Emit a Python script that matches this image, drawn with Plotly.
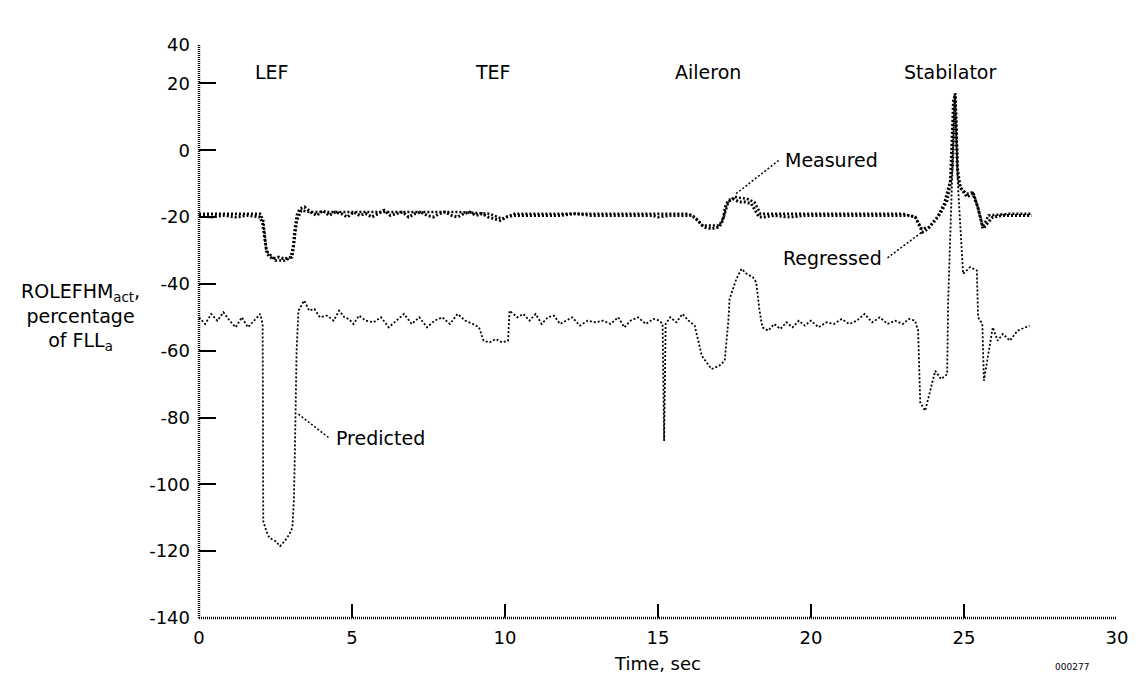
import plotly.graph_objects as go

# ---- Measured flap hinge moment (percent of FLL_a) ----
t_measured = [
    0, 0.4, 0.8, 1.2, 1.6, 2.0, 2.08, 2.15, 2.22, 2.4,
    2.6, 2.8, 3.0, 3.08, 3.13, 3.2, 3.3, 3.45, 3.65, 3.85,
    4.05, 4.25, 4.45, 4.65, 4.85, 5.05, 5.25, 5.45, 5.65, 5.85,
    6.05, 6.25, 6.45, 6.65, 6.85, 7.05, 7.25, 7.45, 7.65, 7.85,
    8.05, 8.25, 8.45, 8.65, 8.85, 9.05, 9.25, 9.45, 9.65, 9.85,
    10.05, 10.3, 10.8, 11.3, 11.8, 12.3, 12.8, 13.3, 13.8, 14.3,
    14.6, 14.8, 15.0, 15.4, 15.8, 16.1, 16.3, 16.5, 16.75, 17.0,
    17.12, 17.2, 17.3, 17.45, 17.65, 17.85, 18.05, 18.2, 18.3, 18.45,
    18.8, 19.3, 19.8, 20.3, 20.8, 21.3, 21.8, 22.3, 22.8, 23.2,
    23.41, 23.64, 23.83, 24.06, 24.22, 24.45, 24.55, 24.62, 24.71, 24.78,
    24.87, 25.1, 25.29, 25.45, 25.62, 25.75, 25.94, 26.3, 26.7, 27.2,
]
measured = [
    -19.5, -20, -19.5, -20, -19.5, -20, -22, -27, -31, -32.5,
    -32, -32.5, -32, -29, -24, -19.5, -17.5, -17, -18.5, -19.5,
    -18, -19.5, -18.5, -19, -20, -18.5, -19.5, -19, -20, -19,
    -18, -19.5, -19, -18.5, -20, -19, -18.5, -19.5, -20, -19,
    -18.5, -19.5, -20, -19, -18.5, -19.5, -19, -20, -20.5, -21,
    -20, -19.5, -19.5, -19.5, -19.5, -19, -19.5, -19.5, -19.5, -19.5,
    -19.5, -19.5, -20, -19.5, -19.5, -19.5, -21, -23, -23.5, -23,
    -21, -17, -15, -14.5, -15.5, -15.5, -16, -18.5, -20, -20,
    -19.5, -20, -19.5, -19.5, -19.5, -19.5, -19.5, -19.5, -19.5, -19.5,
    -20, -24.5, -23.5, -21, -19, -15, -10, -5, 17, -5,
    -11, -14, -13, -17, -23.5, -22, -20, -19.5, -19.5, -19.5,
]

# ---- Regressed model ----
t_regressed = [
    0, 1.0, 2.0, 2.1, 2.2, 2.5, 2.8, 3.05, 3.12, 3.2,
    3.35, 3.6, 4.5, 5.5, 6.5, 7.5, 8.5, 9.5, 9.9, 10.3,
    12.0, 14.0, 16.0, 16.2, 16.45, 17.0, 17.15, 17.3, 17.5, 17.9,
    18.15, 18.35, 19.0, 21.0, 23.0, 23.4, 23.62, 23.85, 24.1, 24.35,
    24.55, 24.65, 24.72, 24.8, 24.9, 25.1, 25.3, 25.45, 25.62, 25.8,
    26.5, 27.2,
]
regressed = [
    -19, -19, -19, -21, -30, -33, -33, -32, -27, -21,
    -18, -18.5, -18.5, -18.5, -18.5, -18.5, -18.5, -19, -20.5, -19,
    -19, -19, -19, -20, -22.5, -22.5, -20, -15.5, -14, -14.5,
    -15.5, -19, -19, -19, -19, -20, -23.5, -23, -20.5, -16,
    -9, 15, 17, -8, -11.5, -13, -12.5, -17, -23, -19.5,
    -19, -19,
]

# ---- Predicted ----
t_predicted = [
    0, 0.2, 0.4, 0.6, 0.8, 1.0, 1.2, 1.4, 1.6, 1.8,
    2.0, 2.08, 2.1, 2.2, 2.3, 2.5, 2.65, 2.8, 2.95, 3.05,
    3.1, 3.13, 3.16, 3.19, 3.25, 3.44, 3.6, 3.77, 3.95, 4.19,
    4.4, 4.58, 4.75, 4.9, 5.05, 5.23, 5.45, 5.7, 5.95, 6.2,
    6.45, 6.7, 6.95, 7.2, 7.45, 7.7, 7.95, 8.2, 8.45, 8.7,
    8.95, 9.15, 9.3, 9.5, 9.7, 9.9, 10.1, 10.15, 10.4, 10.6,
    10.8, 11.0, 11.2, 11.4, 11.6, 11.8, 12.0, 12.2, 12.45, 12.7,
    12.95, 13.2, 13.45, 13.7, 13.9, 14.1, 14.35, 14.6, 14.85, 15.05,
    15.15, 15.2, 15.25, 15.4, 15.6, 15.8, 16.0, 16.2, 16.43, 16.75,
    17.0, 17.18, 17.24, 17.3, 17.34, 17.56, 17.73, 17.9, 18.1, 18.21,
    18.31, 18.41, 18.6, 18.8, 19.0, 19.2, 19.4, 19.6, 19.8, 20.0,
    20.25, 20.5, 20.75, 21.0, 21.25, 21.5, 21.75, 22.0, 22.25, 22.5,
    22.75, 23.0, 23.2, 23.4, 23.5, 23.57, 23.73, 23.93, 24.06, 24.25,
    24.45, 24.48, 24.55, 24.62, 24.7, 24.8, 24.87, 24.97, 25.2, 25.42,
    25.46, 25.6, 25.65, 25.8, 25.94, 26.1, 26.27, 26.5, 26.75, 27.14,
]
predicted = [
    -50, -52, -49, -51, -48.5, -51, -53, -50, -53, -51,
    -49, -52, -111, -114, -116, -117, -118.5, -117, -115, -113,
    -105, -92, -78, -60, -48, -45, -48, -47.5, -50, -49.5,
    -51, -48, -50, -50.5, -52, -49.5, -51, -51.5, -50, -53,
    -51, -49, -52, -50, -53, -51, -50, -52, -49, -51,
    -52, -53, -57, -57.5, -56.5, -57.5, -57, -48, -50, -49,
    -51, -49, -52, -50, -49.5, -52, -51, -50, -52.5, -51,
    -51.5, -51, -52, -50, -53, -51, -50, -52, -50.5, -51,
    -52, -87, -52, -50, -51.5, -49, -51, -52.5, -61.5, -65.5,
    -64.5, -63, -57, -51, -44.5, -38.5, -35.5, -37, -38, -39.5,
    -47.5, -53, -54, -52, -53.5, -51.5, -53, -51, -52.5, -51,
    -53, -51.5, -52, -50.5, -52, -51, -49, -51.5, -50, -52,
    -51, -52, -50.5, -51, -54, -75.5, -78, -70.5, -66, -68.5,
    -67, -46, -25, -5, 17, -10, -20, -37, -35, -36,
    -50, -52, -69, -60, -53, -57, -55, -57, -54, -52.5,
]

# ---- Axis ticks ----
x_ticks = [0, 5, 10, 15, 20, 25, 30]
y_ticks = [-140, -120, -100, -80, -60, -40, -20, 0, 20, 31.5]
y_tick_labels = ["-140", "-120", "-100", "-80", "-60", "-40", "-20", "0", "20", "40"]
y_top = 31.5

# ---- Surface labels ----
surfaces = ["LEF", "TEF", "Aileron", "Stabilator"]
surface_x = [2.37, 9.6, 16.65, 24.55]

FONT = "DejaVu Sans"

fig = go.Figure()

fig.add_trace(go.Scatter(
    x=t_measured, y=measured, mode="lines", name="Measured",
    line=dict(color="black", width=3, dash="2px,2px"),
))
fig.add_trace(go.Scatter(
    x=t_regressed, y=regressed, mode="lines", name="Regressed",
    line=dict(color="black", width=2.5, dash="2px,2px"),
))
fig.add_trace(go.Scatter(
    x=t_predicted, y=predicted, mode="lines", name="Predicted",
    line=dict(color="black", width=1.8, dash="2px,2px"),
))

annotations = []
for name, xs in zip(surfaces, surface_x):
    annotations.append(dict(
        x=xs, y=0.953, xref="x", yref="paper", text=name, showarrow=False,
        yanchor="middle", font=dict(family=FONT, size=19, color="black"),
    ))

# curve labels
annotations += [
    dict(x=19.1, y=-3, xref="x", yref="y", text="Measured", showarrow=False,
         xanchor="left", font=dict(family=FONT, size=19, color="black")),
    dict(x=22.4, y=-32.2, xref="x", yref="y", text="Regressed", showarrow=False,
         xanchor="right", font=dict(family=FONT, size=19, color="black")),
    dict(x=4.4, y=-86.1, xref="x", yref="y", text="Predicted", showarrow=False,
         xanchor="left", font=dict(family=FONT, size=19, color="black")),
]

# vertical axis title
annotations.append(dict(
    x=-0.1288, y=0.525, xref="paper", yref="paper",
    text="ROLEFHM<sub>act</sub>,<br>percentage<br>of FLL<sub>a</sub>",
    showarrow=False, align="center", xanchor="center", yanchor="middle",
    font=dict(family=FONT, size=19, color="black"),
))

# figure number
annotations.append(dict(
    x=0.972, y=-0.098, xref="paper", yref="paper", text="000277",
    showarrow=False, font=dict(family=FONT, size=9, color="black"),
))

shapes = [
    # axis lines
    dict(type="line", xref="paper", yref="paper", x0=0, y0=0, x1=0, y1=1,
         line=dict(color="black", width=2.5, dash="1px,1px")),
    dict(type="line", xref="paper", yref="paper", x0=0, y0=0, x1=1, y1=0,
         line=dict(color="black", width=2.5, dash="1px,1px")),
    # leader lines
    dict(type="line", xref="x", yref="y", x0=17.55, y0=-13, x1=18.95, y1=-3,
         line=dict(color="black", width=1.5, dash="2px,2px")),
    dict(type="line", xref="x", yref="y", x0=22.5, y0=-32.2, x1=23.64, y1=-24.4,
         line=dict(color="black", width=1.5, dash="2px,2px")),
    dict(type="line", xref="x", yref="y", x0=3.25, y0=-79, x1=4.25, y1=-86.1,
         line=dict(color="black", width=1.5, dash="2px,2px")),
]

fig.update_layout(
    width=1140, height=685,
    margin=dict(l=199, r=17, t=45, b=67),
    paper_bgcolor="white", plot_bgcolor="white",
    showlegend=False,
    font=dict(family=FONT, size=18, color="black"),
    annotations=annotations,
    shapes=shapes,
    xaxis=dict(
        range=[0, 30], tickvals=x_ticks, ticks="inside", ticklen=14,
        tickwidth=1.5, tickcolor="black", showgrid=False, zeroline=False,
        showline=False, ticklabelstandoff=7,
        tickfont=dict(family=FONT, size=18, color="black"),
        title=dict(text="Time, sec", standoff=10,
                   font=dict(family=FONT, size=18, color="black")),
    ),
    yaxis=dict(
        range=[-140, y_top], tickvals=y_ticks, ticktext=y_tick_labels,
        ticks="inside", ticklen=17, tickwidth=1.5, tickcolor="black",
        showgrid=False, zeroline=False, showline=False, ticklabelstandoff=8,
        tickfont=dict(family=FONT, size=18, color="black"),
    ),
)

fig.write_html("out.html")
